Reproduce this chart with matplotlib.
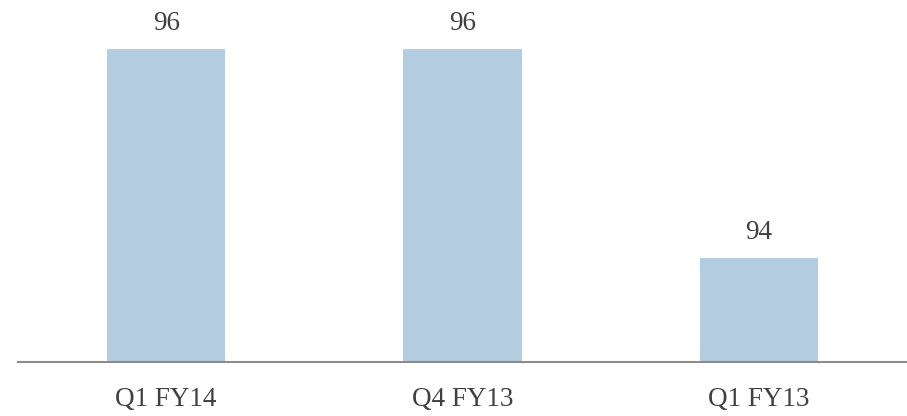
import matplotlib.pyplot as plt

quarters = ['Q1 FY14', 'Q4 FY13', 'Q1 FY13']
scores = [96, 96, 94]

plt.rcParams['font.family'] = ['Liberation Serif', 'DejaVu Serif']

fig = plt.figure(figsize=(9.07, 4.16), dpi=100)
ax = fig.add_axes([18 / 907, 1 - 362 / 416, 889 / 907, 362 / 416])

x = range(len(quarters))
bars = ax.bar(x, scores, width=0.4, color='#b4cce0', zorder=2)

for xi, v in zip(x, scores):
    ax.annotate(str(v), (xi, v), xytext=(0, 13.5), textcoords='offset points',
                ha='center', va='baseline', fontsize=19.5, color='#404040')

ax.set_xlim(-0.5, 2.5)
ax.set_ylim(93, 96.47)
ax.set_xticks(list(x))
ax.set_xticklabels(quarters, fontsize=19.5, color='#404040')
ax.tick_params(axis='x', length=0, pad=18)
ax.set_yticks([])
for side in ['top', 'right', 'left']:
    ax.spines[side].set_visible(False)
ax.spines['bottom'].set_color('#8c8c8c')
ax.spines['bottom'].set_linewidth(1.5)

fig.savefig('out.png', dpi=100)
